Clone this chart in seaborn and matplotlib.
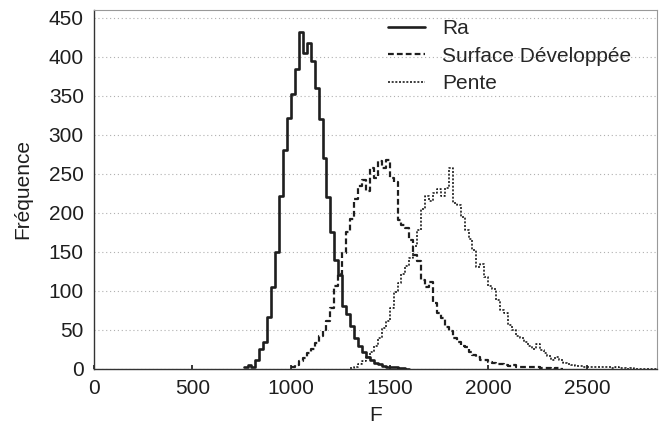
import matplotlib
matplotlib.use("Agg")
import matplotlib.pyplot as plt
import numpy as np
import pandas as pd
import seaborn as sns

sns.set_theme(style="ticks")
plt.rcParams["font.family"] = ["Liberation Sans", "DejaVu Sans"]

BIN_WIDTH = 20

# counts per bin (bin width 20), each series starts at its own left edge
ra_start = 760
ra_counts = [2, 5, 3, 12, 25, 35, 67, 105, 150, 222, 280, 322, 352, 384, 432,
             405, 418, 395, 360, 320, 270, 220, 175, 140, 120, 80, 70, 55, 40,
             30, 22, 15, 12, 8, 6, 4, 3, 2, 2, 1, 1, 0]

surf_start = 1000
surf_counts = [2, 5, 10, 14, 20, 26, 33, 42, 50, 62, 78, 106, 121, 148, 175,
               192, 218, 234, 242, 228, 257, 245, 266, 258, 268, 245, 240, 191,
               185, 180, 165, 146, 138, 114, 105, 112, 84, 72, 65, 54, 48, 40,
               35, 30, 28, 22, 18, 15, 12, 12, 9, 8, 6, 6, 5, 4, 5, 3, 3, 2, 3,
               2, 2, 1, 1, 1, 0, 1, 0]

pente_start = 1300
pente_counts = [1, 3, 6, 10, 15, 22, 30, 40, 52, 62, 78, 98, 110, 122, 132,
                142, 158, 178, 205, 222, 215, 225, 230, 222, 232, 257, 212, 210,
                195, 178, 166, 152, 130, 135, 118, 106, 102, 88, 76, 72, 56, 50,
                42, 40, 35, 30, 26, 32, 24, 20, 16, 12, 15, 11, 8, 6, 5, 4, 4, 3,
                3, 3, 2, 3, 2, 2, 1, 2, 1, 1, 0, 1, 0, 0, 0, 0, 0, 0]

series = [
    ("Ra", ra_start, ra_counts, "-", 1.9),
    ("Surface Développée", surf_start, surf_counts, (0, (2.6, 1.4)), 1.6),
    ("Pente", pente_start, pente_counts, (0, (1.2, 1.0)), 1.2),
]

fig = plt.figure(figsize=(6.59, 4.30), dpi=100)
ax = fig.add_axes([0.142, 0.142, 0.855, 0.835])

for label, start, counts, ls, lw in series:
    edges = start + BIN_WIDTH * np.arange(len(counts) + 1)
    df = pd.DataFrame({"F": edges[:-1] + BIN_WIDTH / 2, "n": counts})
    sns.histplot(data=df, x="F", weights="n", bins=list(edges), element="step",
                 fill=False, color="#1e1e1e", linestyle=ls, linewidth=lw,
                 label=label, ax=ax)

ax.set_xlim(0, 2855)
ax.set_ylim(0, 460)
ax.set_xticks(np.arange(0, 2501, 500))
ax.set_yticks(np.arange(0, 451, 50))
ax.yaxis.grid(True, linestyle=(0, (1, 2.5)), color="#b0b0b0", linewidth=0.8)
ax.set_axisbelow(True)
ax.tick_params(axis="both", direction="in", length=3, labelsize=15,
               colors="#1e1e1e", pad=7)
ax.tick_params(axis="y", length=0, pad=7)
for side in ["left", "bottom"]:
    ax.spines[side].set_color("#333333")
    ax.spines[side].set_linewidth(1.0)
for side in ["top", "right"]:
    ax.spines[side].set_color("#999999")
    ax.spines[side].set_linewidth(0.8)

ax.set_xlabel("F", fontsize=15, color="#1e1e1e", labelpad=6)
ax.set_ylabel("Fréquence", fontsize=15, color="#1e1e1e", labelpad=12)

ax.legend(loc="upper left", bbox_to_anchor=(0.515, 0.985), frameon=False,
          fontsize=15, handlelength=1.8, handletextpad=0.8, labelspacing=0.4,
          borderaxespad=0.0, borderpad=0.2)

fig.savefig("out.png", dpi=100)
